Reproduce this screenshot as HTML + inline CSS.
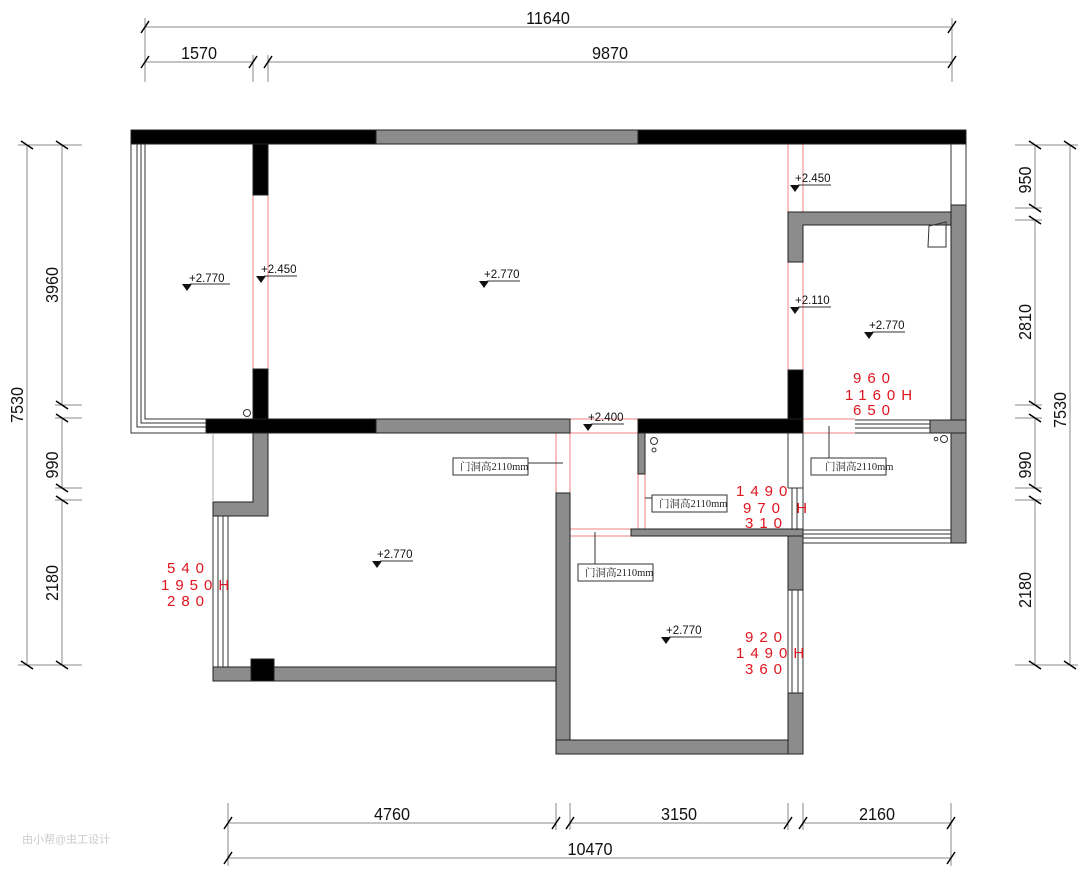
<!DOCTYPE html>
<html><head><meta charset="utf-8"><style>
html,body{margin:0;padding:0;background:#fff;}
svg{display:block;}
.d{font-family:"Liberation Sans",sans-serif;font-size:18px;fill:#111;}
.e{font-family:"Liberation Sans",sans-serif;font-size:11.5px;fill:#111;}
.r{font-family:"Liberation Sans",sans-serif;font-size:15px;fill:#e0141e;letter-spacing:6px;}
.c{font-family:"Liberation Serif","Noto Serif CJK SC",serif;font-size:10.5px;fill:#222;}
</style></head><body>
<svg width="1080" height="869" viewBox="0 0 1080 869" xmlns="http://www.w3.org/2000/svg">
<g stroke="#888" stroke-width="1" fill="none">
<line x1="145" y1="27" x2="952" y2="27"/>
<line x1="145" y1="62" x2="253" y2="62"/><line x1="268" y1="62" x2="952" y2="62"/>
<line x1="145" y1="18" x2="145" y2="82"/><line x1="952" y1="18" x2="952" y2="82"/>
<line x1="253" y1="55" x2="253" y2="82"/><line x1="268" y1="55" x2="268" y2="82"/>
<line x1="228" y1="823" x2="556" y2="823"/><line x1="570" y1="823" x2="788" y2="823"/><line x1="803" y1="823" x2="951" y2="823"/>
<line x1="228" y1="858" x2="951" y2="858"/>
<line x1="228" y1="803" x2="228" y2="866"/><line x1="951" y1="803" x2="951" y2="866"/>
<line x1="556" y1="803" x2="556" y2="830"/><line x1="570" y1="803" x2="570" y2="830"/>
<line x1="788" y1="803" x2="788" y2="830"/><line x1="803" y1="803" x2="803" y2="830"/>
<line x1="27" y1="145" x2="27" y2="665"/>
<line x1="62" y1="145" x2="62" y2="405"/><line x1="62" y1="418" x2="62" y2="488"/><line x1="62" y1="500" x2="62" y2="665"/>
<line x1="18" y1="145" x2="82" y2="145"/><line x1="18" y1="665" x2="82" y2="665"/>
<line x1="55" y1="405" x2="82" y2="405"/><line x1="55" y1="418" x2="82" y2="418"/>
<line x1="55" y1="488" x2="82" y2="488"/><line x1="55" y1="500" x2="82" y2="500"/>
<line x1="1070" y1="145" x2="1070" y2="665"/>
<line x1="1035" y1="145" x2="1035" y2="208"/><line x1="1035" y1="220" x2="1035" y2="405"/><line x1="1035" y1="418" x2="1035" y2="488"/><line x1="1035" y1="500" x2="1035" y2="665"/>
<line x1="1015" y1="145" x2="1078" y2="145"/><line x1="1015" y1="665" x2="1078" y2="665"/>
<line x1="1015" y1="208" x2="1042" y2="208"/><line x1="1015" y1="220" x2="1042" y2="220"/>
<line x1="1015" y1="405" x2="1042" y2="405"/><line x1="1015" y1="418" x2="1042" y2="418"/>
<line x1="1015" y1="488" x2="1042" y2="488"/><line x1="1015" y1="500" x2="1042" y2="500"/>
</g>
<g stroke="#000" stroke-width="1.5">
<path d="M141,33l8,-12M948,33l8,-12M141,68l8,-12M249,68l8,-12M264,68l8,-12M948,68l8,-12"/>
<path d="M224,829l8,-12M552,829l8,-12M566,829l8,-12M784,829l8,-12M799,829l8,-12M947,829l8,-12M224,864l8,-12M947,864l8,-12"/>
<path d="M21,141l12,8M56,141l12,8M21,661l12,8M56,661l12,8M56,401l12,8M56,414l12,8M56,484l12,8M56,496l12,8"/>
<path d="M1029,141l12,8M1064,141l12,8M1029,661l12,8M1064,661l12,8M1029,204l12,8M1029,216l12,8M1029,401l12,8M1029,414l12,8M1029,484l12,8M1029,496l12,8"/>
</g>
<g class="d">
<text transform="translate(548,24) scale(0.9,1)" text-anchor="middle">11640</text>
<text transform="translate(199,59) scale(0.9,1)" text-anchor="middle">1570</text>
<text transform="translate(610,59) scale(0.9,1)" text-anchor="middle">9870</text>
<text transform="translate(392,820) scale(0.9,1)" text-anchor="middle">4760</text>
<text transform="translate(679,820) scale(0.9,1)" text-anchor="middle">3150</text>
<text transform="translate(877,820) scale(0.9,1)" text-anchor="middle">2160</text>
<text transform="translate(590,855) scale(0.9,1)" text-anchor="middle">10470</text>
<text transform="translate(23,405) rotate(-90) scale(0.9,1)" text-anchor="middle">7530</text>
<text transform="translate(58,285) rotate(-90) scale(0.9,1)" text-anchor="middle">3960</text>
<text transform="translate(58,465) rotate(-90) scale(0.9,1)" text-anchor="middle">990</text>
<text transform="translate(58,583) rotate(-90) scale(0.9,1)" text-anchor="middle">2180</text>
<text transform="translate(1031,180) rotate(-90) scale(0.9,1)" text-anchor="middle">950</text>
<text transform="translate(1031,322) rotate(-90) scale(0.9,1)" text-anchor="middle">2810</text>
<text transform="translate(1031,465) rotate(-90) scale(0.9,1)" text-anchor="middle">990</text>
<text transform="translate(1031,590) rotate(-90) scale(0.9,1)" text-anchor="middle">2180</text>
<text transform="translate(1066,410) rotate(-90) scale(0.9,1)" text-anchor="middle">7530</text>
</g>
<g stroke="#f08080" stroke-width="1" fill="none">
<path d="M253,195V369M268,195V369"/>
<path d="M788,144V212M803,144V212M788,262V370M803,262V370"/>
<path d="M570,419H638M570,433H638M556,433V493M570,433V493"/>
<path d="M638,474V529M645,474V529M570,529H631M570,536H631"/>
<path d="M803,419H855M803,433H855"/>
</g>
<g stroke="#222" stroke-width="1">
<rect x="131" y="130" width="245" height="14" fill="#000"/>
<rect x="376" y="130" width="262" height="14" fill="#8c8c8c"/>
<rect x="638" y="130" width="328" height="14" fill="#000"/>
<rect x="253" y="144" width="15" height="51" fill="#000"/>
<rect x="253" y="369" width="15" height="50" fill="#000"/>
<rect x="206" y="419" width="170" height="14" fill="#000"/>
<rect x="376" y="419" width="194" height="14" fill="#8c8c8c"/>
<rect x="638" y="419" width="165" height="14" fill="#000"/>
<rect x="788" y="370" width="15" height="49" fill="#000"/>
<path d="M788,212H951V225H803V262H788Z" fill="#8c8c8c"/>
<rect x="951" y="205" width="15" height="215" fill="#8c8c8c"/>
<rect x="930" y="420" width="36" height="13" fill="#8c8c8c"/>
<rect x="951" y="433" width="15" height="110" fill="#8c8c8c"/>
<path d="M253,433H268V516H213V502H253Z" fill="#8c8c8c"/>
<rect x="213" y="667" width="357" height="14" fill="#8c8c8c"/>
<rect x="251" y="659" width="23" height="22" fill="#000"/>
<rect x="556" y="493" width="14" height="261" fill="#8c8c8c"/>
<rect x="556" y="740" width="247" height="14" fill="#8c8c8c"/>
<rect x="788" y="536" width="15" height="54" fill="#8c8c8c"/>
<rect x="788" y="693" width="15" height="61" fill="#8c8c8c"/>
<rect x="631" y="529" width="172" height="7" fill="#8c8c8c"/>
<rect x="638" y="433" width="7" height="41" fill="#8c8c8c"/>
</g>
<g stroke="#333" stroke-width="1" fill="none">
<path d="M131,144V433H206M137,144V427H206M141,144V423H206M145,144V419H206"/>
<path d="M951,144V205M966,144V205"/>
<path d="M213,516V667M218,516V667M223,516V667M228,516V667"/>
<path d="M788,590V693M792,590V693M798,590V693M803,590V693"/>
<path d="M855,420H930M855,424H930M855,428H930M855,433H930"/>
<path d="M803,530H951M803,534H951M803,538H951M803,543H951"/>
<path d="M788,433V488M803,433V530M788,488H803M792,488V530M797,488V530"/>
<path d="M213,433V502" stroke="#aaa"/>
<path d="M929,226L946,222V247H928Z"/>
<circle cx="247" cy="413" r="3.5"/>
<circle cx="654" cy="441" r="3.5"/><circle cx="654" cy="450" r="2"/>
<circle cx="944" cy="439" r="3.5"/><circle cx="936" cy="439" r="1.8"/>
</g>
<g class="e">
<g transform="translate(187,284)"><path d="M-5,0h10l-5,7z"/><text x="2" y="-2">+2.770</text><line x1="3" y1="0" x2="43" y2="0" stroke="#333"/></g>
<g transform="translate(261,276)"><path d="M-5,0h10l-5,7z"/><text x="0" y="-3">+2.450</text><line x1="3" y1="0" x2="36" y2="0" stroke="#333"/></g>
<g transform="translate(484,281)"><path d="M-5,0h10l-5,7z"/><text x="0" y="-3">+2.770</text><line x1="3" y1="0" x2="36" y2="0" stroke="#333"/></g>
<g transform="translate(795,185)"><path d="M-5,0h10l-5,7z"/><text x="0" y="-3">+2.450</text><line x1="3" y1="0" x2="36" y2="0" stroke="#333"/></g>
<g transform="translate(795,307)"><path d="M-5,0h10l-5,7z"/><text x="0" y="-3">+2.110</text><line x1="3" y1="0" x2="36" y2="0" stroke="#333"/></g>
<g transform="translate(869,332)"><path d="M-5,0h10l-5,7z"/><text x="0" y="-3">+2.770</text><line x1="3" y1="0" x2="36" y2="0" stroke="#333"/></g>
<g transform="translate(588,424)"><path d="M-5,0h10l-5,7z"/><text x="0" y="-3">+2.400</text><line x1="3" y1="0" x2="36" y2="0" stroke="#333"/></g>
<g transform="translate(377,561)"><path d="M-5,0h10l-5,7z"/><text x="0" y="-3">+2.770</text><line x1="3" y1="0" x2="36" y2="0" stroke="#333"/></g>
<g transform="translate(666,637)"><path d="M-5,0h10l-5,7z"/><text x="0" y="-3">+2.770</text><line x1="3" y1="0" x2="36" y2="0" stroke="#333"/></g>
</g>
<g stroke="#333" stroke-width="1" fill="#fff">
<line x1="527" y1="463" x2="563" y2="463"/>
<rect x="453" y="458" width="75" height="17"/>
<line x1="645" y1="498" x2="652" y2="498"/>
<rect x="652" y="495" width="75" height="17"/>
<line x1="595" y1="532" x2="595" y2="564"/>
<rect x="578" y="564" width="75" height="17"/>
<line x1="829" y1="426" x2="829" y2="458"/>
<rect x="811" y="458" width="75" height="17"/>
</g>
<g class="c">
<text x="460" y="470">门洞高2110mm</text>
<text x="659" y="507">门洞高2110mm</text>
<text x="585" y="576">门洞高2110mm</text>
<text x="825" y="470">门洞高2110mm</text>
</g>
<g class="r">
<text x="853" y="383">960</text><text x="845" y="400">1160H</text><text x="853" y="415">650</text>
<text x="736" y="496">1490</text><text x="743" y="513">970 H</text><text x="745" y="528">310</text>
<text x="167" y="573">540</text><text x="161" y="590">1950H</text><text x="167" y="606">280</text>
<text x="745" y="642">920</text><text x="736" y="658">1490H</text><text x="745" y="674">360</text>
</g>
<text x="22" y="843" font-family="Liberation Sans,Noto Sans CJK SC,sans-serif" font-size="11" fill="#ccc">由小帮@虫工设计</text>
</svg>
</body></html>
